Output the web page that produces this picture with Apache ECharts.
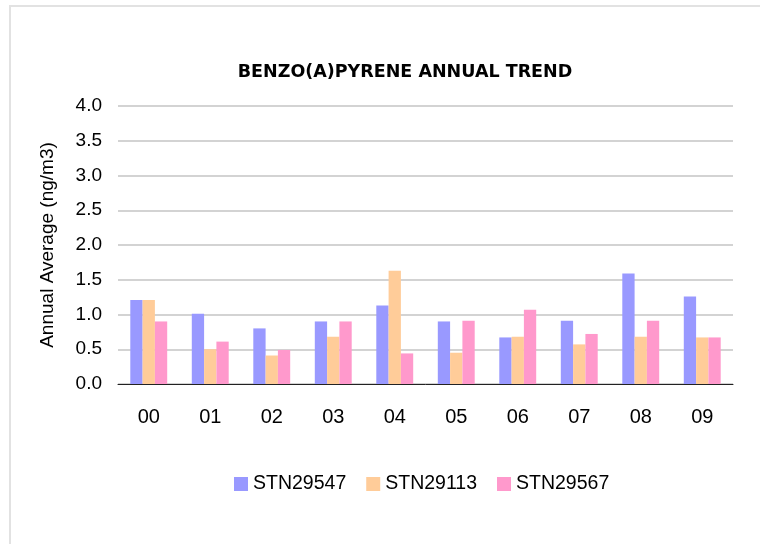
<!DOCTYPE html>
<html style="height: 100%">

<head>
    <meta charset="utf-8">
</head>

<body style="height: 100%;width: 100%;margin: 0;">
    <div id="container" style="height: 544px;width: 760px;"></div>
    <script type="text/javascript" src="https://cdn.jsdelivr.net/npm/echarts@6/dist/echarts.min.js"></script>
    <script type="text/javascript">
        var years = ['00', '01', '02', '03', '04', '05', '06', '07', '08', '09'];
        var stn29547 = [1.21, 1.01, 0.80, 0.90, 1.13, 0.90, 0.67, 0.91, 1.59, 1.26];
        var stn29113 = [1.21, 0.50, 0.41, 0.68, 1.63, 0.45, 0.68, 0.57, 0.68, 0.67];
        var stn29567 = [0.90, 0.61, 0.49, 0.90, 0.44, 0.91, 1.07, 0.72, 0.91, 0.67];

        var font = 'Liberation Sans, Arial, sans-serif';
        var dom = document.getElementById("container");
        var myChart = echarts.init(dom);

        function bar(name, data, color) {
            return {
                name: name,
                type: 'bar',
                data: data,
                barGap: '0%',
                barCategoryGap: '40%',
                itemStyle: { color: color }
            };
        }

        var option = {
            backgroundColor: '#fff',
            animation: false,
            color: ['#9999FF', '#FFCC99', '#FF99CC'],
            graphic: [{
                type: 'rect',
                shape: { x: 10, y: 6, width: 800, height: 600 },
                style: { fill: 'none', stroke: '#e2e2e2', lineWidth: 2 }
            }],
            title: {
                text: 'BENZO(A)PYRENE ANNUAL TREND',
                left: 400,
                top: 58,
                textAlign: 'center',
                textStyle: { fontFamily: 'DejaVu Sans', fontSize: 17.5, fontWeight: 'bold', color: '#000' }
            },
            legend: {
                data: ['STN29547', 'STN29113', 'STN29567'],
                top: 469,
                left: 229,
                itemWidth: 14,
                itemHeight: 14,
                itemGap: 20,
                icon: 'rect',
                textStyle: { fontFamily: font, fontSize: 19.5, color: '#000' }
            },
            grid: { left: 118, right: 27, top: 106, bottom: 160 },
            xAxis: [{
                type: 'category',
                data: years,
                axisLine: { lineStyle: { color: '#222', width: 1 } },
                axisTick: { length: 6, lineStyle: { color: '#222' } },
                axisLabel: { fontFamily: font, fontSize: 20, color: '#000', margin: 23 }
            }, {
                type: 'category',
                data: years,
                position: 'bottom',
                offset: 4,
                axisLine: { show: false },
                axisTick: { alignWithLabel: true, inside: true, length: 9, lineStyle: { color: '#222' } },
                axisLabel: { show: false }
            }],
            yAxis: {
                type: 'value',
                min: 0,
                max: 4,
                interval: 0.5,
                name: 'Annual Average (ng/m3)',
                nameLocation: 'middle',
                nameGap: 61,
                nameTextStyle: { fontFamily: font, fontSize: 19, color: '#000' },
                axisLine: { show: false },
                axisTick: { show: false },
                splitLine: { lineStyle: { color: '#c4c4c4', width: 1.5 } },
                axisLabel: {
                    fontFamily: font, fontSize: 19, color: '#000', margin: 16,
                    formatter: function (v) { return v.toFixed(1); }
                }
            },
            series: [
                bar('STN29547', stn29547, '#9999FF'),
                bar('STN29113', stn29113, '#FFCC99'),
                bar('STN29567', stn29567, '#FF99CC')
            ]
        };

        myChart.setOption(option, true);
        window.onresize = myChart.resize;
    </script>
</body>

</html>
